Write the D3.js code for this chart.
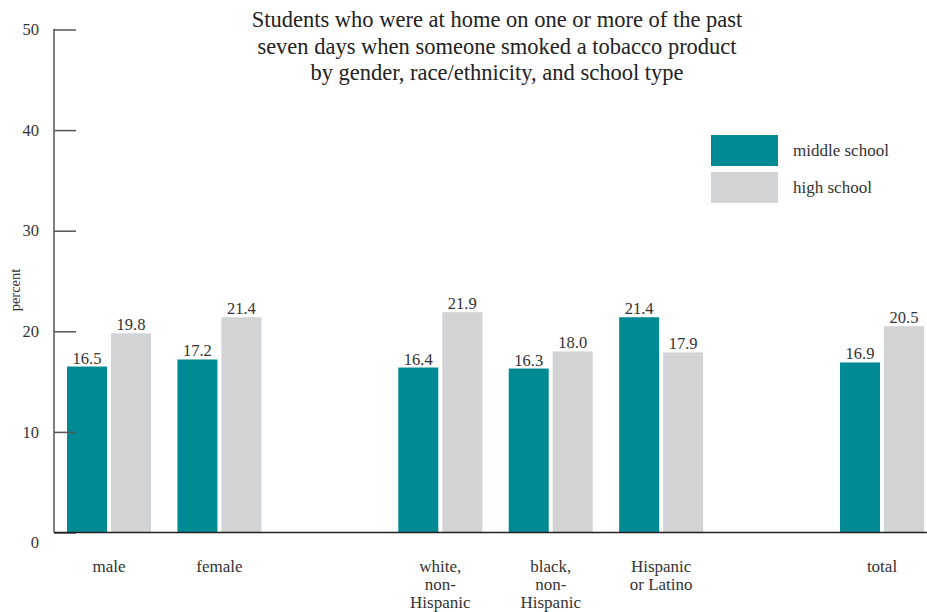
<!DOCTYPE html>
<html><head><meta charset="utf-8">
<script src="https://cdn.jsdelivr.net/npm/d3@7"></script>
<style>body{margin:0;background:#fff}svg{display:block}text{font-family:"Liberation Serif","DejaVu Serif",serif;fill:#333}</style>
</head><body>
<svg id="c" width="927" height="612"></svg>
<script>
// ---- data ----
const titleLines = ["Students who were at home on one or more of the past",
  "seven days when someone smoked a tobacco product",
  "by gender, race/ethnicity, and school type"];
const groups = [["male","female"],["white","black","hispanic"],["total"]];
const categoryLabels = {
  male:["male"], female:["female"],
  white:["white,","non-","Hispanic"], black:["black,","non-","Hispanic"],
  hispanic:["Hispanic","or Latino"], total:["total"]
};
const seriesNames = ["middle school","high school"];
const middleSchool = {male:16.5, female:17.2, white:16.4, black:16.3, hispanic:21.4, total:16.9};
const highSchool   = {male:19.8, female:21.4, white:21.9, black:18.0, hispanic:17.9, total:20.5};
const yTicks = [0,10,20,30,40,50];
const yLabel = "percent";
const colors = ["#008A94","#D2D3D5"];

// ---- layout ----
const svg = d3.select("#c");
const x0 = 54, yBase = 532.5, yTop = 29.5;
const y = d3.scaleLinear().domain([0,50]).range([yBase,yTop]);

const slots = [];
groups.forEach((g,i)=>{ if(i>0) slots.push("_gap"+i); g.forEach(c=>slots.push(c)); });
const step = 110.43;
const xs = d3.scaleBand().domain(slots).range([67, 67+step*slots.length]).paddingInner(0).paddingOuter(0).align(0);
const groupW = 84;
const xi = d3.scaleBand().domain(seriesNames).range([0,groupW]).paddingInner(4/44).paddingOuter(0);
const cats = groups.flat();
const seriesVals = [middleSchool, highSchool];

// title
svg.append("g").selectAll("text").data(titleLines).join("text")
  .attr("x",497).attr("y",(d,i)=>27+i*26.5).attr("text-anchor","middle")
  .style("font-size","22.5px").style("fill","#222").text(d=>d);

// bars
seriesNames.forEach((s,si)=>{
  const g = svg.append("g");
  g.selectAll("rect").data(cats).join("rect")
    .attr("x",c=>xs(c)+xi(s)).attr("width",xi.bandwidth())
    .attr("y",c=>y(seriesVals[si][c])).attr("height",c=>yBase-y(seriesVals[si][c]))
    .attr("fill",colors[si]);
  g.selectAll("text").data(cats).join("text")
    .attr("x",c=>xs(c)+xi(s)+xi.bandwidth()/2).attr("y",c=>y(seriesVals[si][c])-3)
    .attr("text-anchor","middle").style("font-size","16.5px")
    .text(c=>seriesVals[si][c].toFixed(1));
});

// y axis
const yAxis = d3.axisRight(y).tickValues(yTicks).tickSize(22).tickFormat("");
const ga = svg.append("g").attr("transform",`translate(${x0},0)`).call(yAxis);
ga.select(".domain").remove();
ga.selectAll(".tick line").attr("stroke","#555").attr("stroke-width",1.5);
svg.append("line").attr("x1",x0).attr("x2",x0).attr("y1",yTop-0.75).attr("y2",yBase)
  .attr("stroke","#555").attr("stroke-width",1.5);
svg.append("g").selectAll("text").data(yTicks).join("text")
  .attr("x",39).attr("y",d=>y(d)+(d===0?10:0)).attr("dy","0.35em").attr("text-anchor","end")
  .style("font-size","16.5px").text(d=>d);
// baseline
svg.append("line").attr("x1",x0).attr("x2",927).attr("y1",yBase).attr("y2",yBase)
  .attr("stroke","#222").attr("stroke-width",1.5);

// y label
svg.append("text").attr("transform","translate(20,290) rotate(-90)").attr("text-anchor","middle")
  .style("font-size","14.5px").text(yLabel);

// x labels
const xl = svg.append("g");
cats.forEach(c=>{
  const t = xl.append("text").attr("text-anchor","middle").style("font-size","17px")
    .attr("x",xs(c)+groupW/2).attr("y",572);
  categoryLabels[c].forEach((line,i)=>t.append("tspan").attr("x",xs(c)+groupW/2).attr("dy",i?18:0).text(line));
});

// legend
const lg = svg.append("g");
seriesNames.forEach((s,i)=>{
  lg.append("rect").attr("x",711).attr("y",135+i*37).attr("width",67).attr("height",31).attr("fill",colors[i]);
  lg.append("text").attr("x",793).attr("y",150+i*37).attr("dy","0.35em").style("font-size","17px").text(s);
});
</script>
</body></html>
